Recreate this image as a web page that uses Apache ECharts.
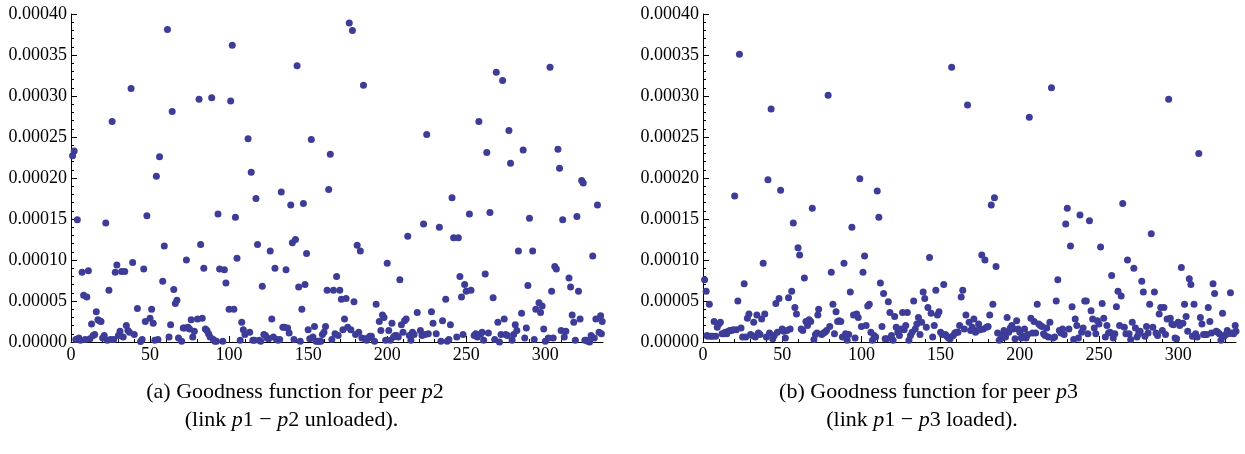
<!DOCTYPE html>
<html>
<head>
<meta charset="utf-8">
<script src="https://cdn.jsdelivr.net/npm/echarts@6/dist/echarts.min.js"></script>
<style>
  html, body { margin: 0; padding: 0; background: #fff; }
  #chart { width: 1245px; height: 454px; }
</style>
</head>
<body>
<div id="chart"></div>
<script>
// Goodness values are stored in units of 1e-5; pairs are [sample index, value].
const goodnessP2 = [
  [1,22.7],[2,23.3],[3,0.3],[4,14.9],[5,0.5],[6,0.2],[7,8.5],[8,5.7],[9,0.3],[10,5.5],
  [11,8.7],[12,0.4],[13,2.2],[14,0.8],[15,0.9],[16,3.7],[17,2.7],[18,2.6],[19,2.5],[20,0.5],
  [21,0.8],[22,14.5],[23,0.2],[24,6.3],[25,0.3],[26,26.9],[27,0.3],[28,8.5],[29,9.4],[30,0.8],
  [31,1.3],[32,8.6],[33,0.6],[34,8.6],[35,2.0],[36,1.4],[37,1.2],[38,30.9],[39,9.7],[40,0.9],
  [42,4.1],[44,0.05],[45,0.3],[46,8.9],[47,2.5],[48,15.4],[50,2.9],[51,4.0],[52,2.3],[53,0.2],
  [54,20.2],[55,0.3],[56,22.6],[58,7.4],[59,11.7],[61,38.1],[62,0.6],[63,2.1],[64,28.1],[65,6.4],
  [66,4.7],[67,5.1],[68,0.5],[70,0.1],[71,1.7],[72,1.7],[73,10.0],[74,1.8],[75,1.6],[76,2.7],
  [77,0.6],[78,1.3],[80,2.8],[81,29.6],[82,11.9],[83,2.9],[84,9.0],[85,1.6],[86,1.4],[87,1.0],
  [88,0.6],[89,29.8],[90,0.3],[91,0.1],[92,0.1],[93,15.6],[94,8.9],[96,0.1],[97,8.8],[98,7.2],
  [100,4.0],[101,29.4],[102,36.2],[103,4.0],[104,15.2],[105,10.2],[107,0.2],[108,2.4],[109,1.5],[110,0.9],
  [112,24.8],[113,1.2],[114,20.7],[115,0.2],[116,0.2],[117,17.5],[118,11.9],[119,0.2],[120,0.1],[121,6.8],
  [122,0.9],[123,0.8],[124,0.5],[125,0.4],[126,11.1],[127,2.8],[128,0.6],[129,9.0],[130,0.3],[131,0.2],
  [132,0.3],[133,18.3],[134,1.8],[135,1.8],[136,8.8],[137,1.7],[138,1.1],[139,16.7],[140,12.1],[141,0.3],
  [142,12.5],[143,33.7],[144,6.7],[145,0.1],[146,4.0],[147,16.9],[148,7.0],[149,10.8],[150,1.5],[151,0.4],
  [152,24.7],[153,0.6],[154,1.9],[155,0.1],[156,0.1],[157,0.1],[158,0.1],[159,0.9],[160,1.2],[161,1.9],
  [162,6.3],[163,18.6],[164,22.9],[165,0.3],[166,6.3],[167,1.0],[168,8.0],[169,0.8],[170,6.3],[171,5.2],
  [172,1.5],[173,2.8],[174,5.3],[175,1.8],[176,38.9],[177,1.5],[178,38.0],[179,4.9],[180,0.9],[181,11.8],
  [182,1.2],[183,11.1],[184,0.5],[185,31.3],[186,0.4],[187,0.2],[188,0.5],[189,0.7],[190,0.7],[192,0.1],
  [193,4.6],[195,2.5],[196,1.4],[197,3.3],[198,3.0],[199,0.2],[200,9.6],[201,1.4],[202,0.2],[203,2.3],
  [204,0.6],[205,0.8],[206,0.8],[207,0.6],[208,7.6],[209,2.1],[210,1.2],[211,2.6],[212,2.8],[213,12.9],
  [214,0.8],[215,0.2],[216,1.2],[217,0.9],[219,3.6],[221,1.4],[222,0.8],[223,14.4],[224,0.9],[225,25.3],
  [226,1.0],[228,3.7],[229,2.3],[231,1.0],[233,14.0],[234,0.1],[235,2.6],[237,5.2],[238,0.1],[239,0.3],
  [240,2.1],[241,17.6],[242,12.7],[244,0.6],[245,12.7],[246,8.0],[247,5.5],[248,0.9],[249,7.0],[250,6.2],
  [252,15.6],[253,6.3],[255,0.8],[256,1.0],[257,0.6],[258,26.9],[259,0.9],[260,1.2],[261,0.2],[262,8.3],
  [263,23.1],[264,1.1],[265,15.8],[267,5.4],[268,0.3],[269,32.9],[270,2.4],[271,0.0],[272,0.9],[273,31.9],
  [274,2.8],[275,0.9],[276,0.8],[277,25.8],[278,21.8],[279,0.2],[280,0.9],[281,2.1],[282,1.4],[283,11.1],
  [285,3.5],[286,23.4],[287,0.5],[288,1.7],[289,6.9],[290,15.1],[292,11.1],[293,0.3],[294,4.0],[296,4.8],
  [297,3.6],[298,4.4],[299,1.6],[300,0.1],[302,0.5],[303,33.5],[304,6.2],[305,0.5],[306,9.2],[307,8.9],
  [308,23.5],[309,21.2],[310,1.4],[311,14.9],[312,0.6],[313,1.3],[315,7.8],[316,6.7],[317,3.3],[318,2.4],
  [319,0.2],[320,15.3],[321,6.2],[322,2.8],[323,19.7],[324,19.4],[325,0.2],[326,0.2],[327,0.1],[328,0.0],
  [329,0.8],[330,10.5],[331,0.5],[332,2.8],[333,16.7],[334,1.2],[335,3.2],[336,2.5],[335.5,1.0]
];

const goodnessP3 = [
  [1,7.6],[2,6.2],[2.5,0.8],[3,0.7],[4,4.6],[5,0.7],[6,0.7],[7,2.5],[8,0.7],[9,1.8],
  [10,2.2],[11,2.4],[12,1.0],[13,1.0],[14,1.2],[15,1.0],[16,1.3],[17,1.4],[18,1.4],[19,1.5],
  [20,17.8],[21,1.5],[22,5.0],[23,35.1],[24,1.7],[25,0.6],[26,7.1],[27,0.6],[28,2.9],[29,3.4],
  [30,0.9],[31,0.8],[32,2.4],[33,0.6],[34,3.3],[35,1.1],[36,0.9],[37,2.8],[38,9.6],[39,3.4],
  [40,0.6],[41,19.8],[42,1.1],[43,28.4],[44,0.4],[45,0.8],[46,4.7],[47,1.2],[48,5.3],[49,18.5],
  [50,1.6],[51,1.3],[52,0.5],[53,1.4],[54,5.4],[55,1.6],[56,6.2],[57,14.5],[58,4.2],[59,3.4],
  [60,11.5],[61,10.6],[62,1.6],[63,1.4],[64,7.8],[65,2.5],[66,2.0],[67,2.7],[68,2.5],[69,16.3],
  [70,0.3],[71,0.9],[72,1.1],[72.5,3.3],[73,4.0],[75,0.9],[76,1.1],[77,1.2],[78,1.4],[79,30.1],
  [80,1.9],[81,8.5],[82,4.6],[83,1.0],[84,3.7],[85,2.5],[86,2.6],[87,2.5],[88,0.6],[89,9.6],
  [90,1.0],[91,0.2],[92,0.9],[93,6.1],[94,14.0],[95,3.3],[96,0.5],[97,3.4],[98,3.0],[99,19.9],
  [100,1.9],[101,8.5],[102,10.5],[103,2.0],[104,4.4],[105,4.6],[106,1.2],[107,0.2],[108,0.8],[109,0.6],
  [110,18.4],[111,15.2],[112,7.2],[113,1.9],[114,5.9],[115,0.4],[116,0.4],[117,4.9],[118,3.6],[119,0.8],
  [120,0.2],[121,3.1],[122,1.8],[123,1.2],[124,0.8],[125,1.6],[126,3.6],[127,1.5],[128,2.0],[129,3.6],
  [130,0.2],[131,0.8],[132,1.2],[133,5.0],[134,1.6],[135,2.2],[136,3.0],[137,0.9],[138,2.4],[139,6.1],
  [140,5.3],[141,1.8],[142,4.2],[143,10.3],[144,3.5],[145,0.6],[146,2.0],[147,6.3],[148,3.3],[149,3.7],
  [150,1.2],[151,0.9],[152,7.0],[153,0.9],[154,0.7],[155,0.5],[156,0.4],[157,33.5],[158,0.8],[159,1.1],
  [160,1.2],[161,1.2],[162,2.0],[163,5.5],[164,6.3],[165,1.6],[166,3.3],[167,28.9],[168,2.4],[169,1.4],
  [170,1.8],[171,2.8],[172,1.2],[173,1.4],[174,2.2],[175,1.5],[176,10.6],[177,1.6],[178,10.0],[179,1.8],
  [180,1.9],[181,3.3],[182,16.7],[183,4.6],[184,17.6],[185,9.2],[186,1.1],[187,0.2],[188,0.4],[189,0.8],
  [190,1.4],[191,0.6],[192,3.0],[193,1.2],[194,1.7],[195,2.0],[196,1.6],[197,0.4],[198,2.6],[199,1.6],
  [200,1.2],[201,0.5],[202,0.7],[203,1.6],[204,0.5],[205,0.9],[206,27.4],[207,2.9],[208,1.1],[209,2.5],
  [210,1.1],[211,4.6],[212,2.2],[213,2.0],[214,1.9],[215,1.0],[216,0.8],[217,1.7],[218,0.6],[219,2.4],
  [220,31.0],[221,0.5],[222,0.6],[223,5.0],[224,7.6],[225,1.4],[226,1.1],[227,1.6],[228,0.9],[229,14.4],
  [230,16.3],[231,1.6],[232,11.7],[233,4.3],[234,0.3],[235,2.8],[236,2.0],[237,0.5],[238,15.5],[239,1.2],
  [240,1.7],[241,5.0],[242,5.0],[243,1.0],[244,14.8],[245,3.8],[246,2.8],[247,1.7],[248,1.0],[249,2.6],
  [250,2.2],[251,11.6],[252,4.7],[253,2.9],[254,0.6],[255,2.0],[256,1.1],[257,1.2],[258,8.1],[259,0.5],
  [260,1.0],[261,4.3],[262,6.2],[263,2.0],[264,5.6],[265,16.9],[266,1.8],[267,1.0],[268,10.0],[269,1.0],
  [270,0.3],[271,2.4],[272,9.0],[273,1.7],[274,0.6],[275,1.0],[276,1.3],[277,7.4],[278,6.1],[279,0.7],
  [280,1.9],[281,1.1],[282,4.6],[283,13.2],[284,1.8],[285,6.1],[286,1.1],[287,0.8],[288,3.4],[289,4.2],
  [290,1.4],[291,4.2],[292,0.9],[293,2.8],[294,29.6],[295,2.9],[296,2.2],[297,2.1],[298,0.5],[299,0.4],
  [300,2.4],[301,2.0],[302,9.1],[303,2.3],[304,4.6],[305,3.1],[306,1.3],[307,7.7],[308,7.0],[309,0.7],
  [310,4.6],[311,1.0],[312,0.6],[313,23.0],[314,3.0],[315,2.2],[316,0.9],[317,0.9],[318,0.9],[319,4.2],
  [320,2.5],[321,1.1],[322,7.1],[323,5.9],[324,1.3],[325,1.2],[326,1.0],[327,0.2],[328,3.5],[329,0.7],
  [330,0.9],[331,1.4],[332,1.0],[333,6.0],[334,1.1],[335,1.0],[336,2.0],[336.5,1.3]
];

// Axis ticks
const xMajorTicks = [0, 50, 100, 150, 200, 250, 300];
const xMinorTicks = [10, 20, 30, 40, 60, 70, 80, 90, 110, 120, 130, 140, 160, 170, 180, 190,
                     210, 220, 230, 240, 260, 270, 280, 290, 310, 320, 330];
const xMax = 336.5;
const yMax = 40;      // 0.00040
const yStep = 5;      // 0.00005

const captionA = ['(a) Goodness function for peer {i|p}2', '(link {i|p}1 \u2212 {i|p}2 unloaded).'];
const captionB = ['(b) Goodness function for peer {i|p}3', '(link {i|p}1 \u2212 {i|p}3 loaded).'];

const SERIF = '"Liberation Serif", "Times New Roman", serif';
const DOT = '#3d3d99';

const grids = [
  { left: 71, top: 14, width: 532, height: 328 },
  { left: 703, top: 14, width: 533, height: 328 }
];

function mainX(gridIndex) {
  return {
    type: 'value', gridIndex, min: 0, max: xMax,
    axisLine: { onZero: false, lineStyle: { color: '#000', width: 1 } },
    axisTick: { inside: true, length: 6, customValues: xMajorTicks, lineStyle: { color: '#000' } },
    axisLabel: { customValues: xMajorTicks, fontFamily: SERIF, fontSize: 18, color: '#000', margin: 4 },
    splitLine: { show: false }
  };
}
function minorX(gridIndex) {
  return {
    type: 'value', gridIndex, min: 0, max: xMax, position: 'bottom',
    axisLine: { show: false, onZero: false },
    axisTick: { inside: true, length: 3, customValues: xMinorTicks, lineStyle: { color: '#000' } },
    axisLabel: { show: false },
    splitLine: { show: false }
  };
}
function mainY(gridIndex) {
  return {
    type: 'value', gridIndex, min: 0, max: yMax, interval: yStep,
    axisLine: { show: true, onZero: false, lineStyle: { color: '#000', width: 1 } },
    axisTick: { show: true, inside: true, length: 6, lineStyle: { color: '#000' } },
    minorTick: { show: true, splitNumber: 5, length: 3, lineStyle: { color: '#000' } },
    axisLabel: {
      fontFamily: SERIF, fontSize: 18, color: '#000', margin: 4,
      formatter: v => (v * 1e-5).toFixed(5)
    },
    splitLine: { show: false }
  };
}
function dots(data, xIdx, yIdx) {
  return {
    type: 'scatter', data, xAxisIndex: xIdx, yAxisIndex: yIdx,
    symbol: 'circle', symbolSize: 7, clip: false,
    itemStyle: { color: DOT, opacity: 1 },
    emphasis: { disabled: true }, animation: false
  };
}
function captionLines(lines, centers, ys) {
  return lines.map((t, i) => ({
    type: 'text', x: centers[i], y: ys[i],
    style: {
      text: t, fill: '#000', font: '22px ' + SERIF, align: 'center', verticalAlign: 'middle',
      rich: { i: { fontStyle: 'italic', fontFamily: SERIF, fontSize: 22, fill: '#000' } }
    }
  }));
}

const chart = echarts.init(document.getElementById('chart'), null, { renderer: 'canvas' });
chart.setOption({
  animation: false,
  backgroundColor: '#fff',
  grid: grids,
  xAxis: [mainX(0), mainX(1), minorX(0), minorX(1)],
  yAxis: [mainY(0), mainY(1)],
  series: [dots(goodnessP2, 0, 0), dots(goodnessP3, 1, 1)],
  graphic: [
    ...captionLines(captionA, [295, 291.5], [392, 420]),
    ...captionLines(captionB, [928.5, 922], [392, 420])
  ]
});
</script>
</body>
</html>
